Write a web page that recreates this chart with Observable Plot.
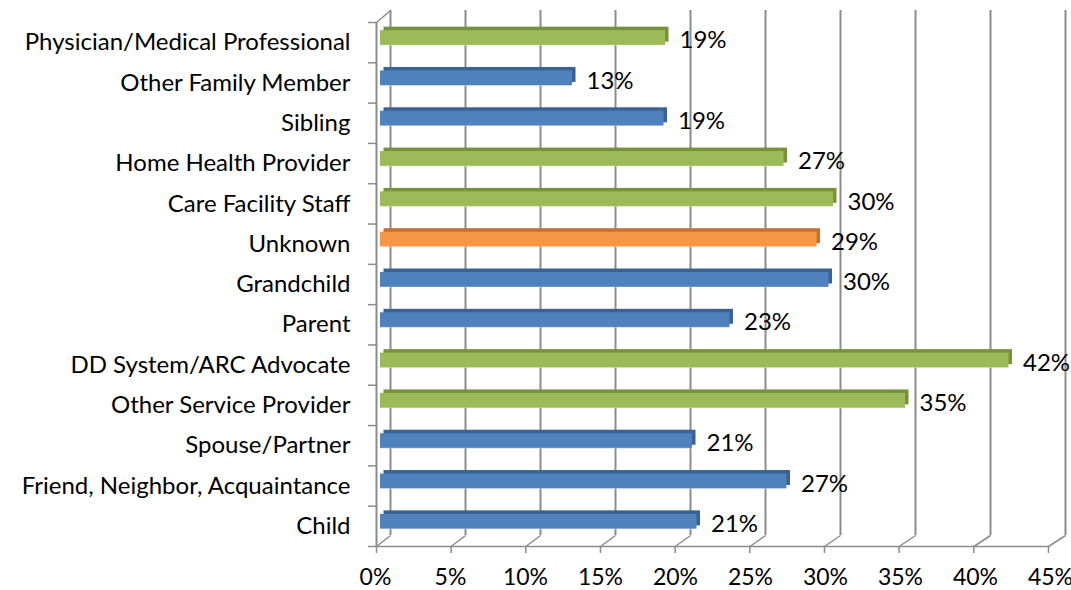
<!DOCTYPE html>
<html>
<head>
<meta charset="utf-8">
<script src="https://cdn.jsdelivr.net/npm/d3@7"></script>
<script src="https://cdn.jsdelivr.net/npm/@observablehq/plot@0.6"></script>
<style>
  html, body { margin: 0; padding: 0; background: #ffffff; }
  #chart { width: 1071px; height: 590px; }
</style>
</head>
<body>
<div id="chart"></div>
<script>
// ---- data (top to bottom) ----
const categories = [
  "Physician/Medical Professional",
  "Other Family Member",
  "Sibling",
  "Home Health Provider",
  "Care Facility Staff",
  "Unknown",
  "Grandchild",
  "Parent",
  "DD System/ARC Advocate",
  "Other Service Provider",
  "Spouse/Partner",
  "Friend, Neighbor, Acquaintance",
  "Child"
];
const values = [0.190, 0.128, 0.189, 0.269, 0.302, 0.291, 0.299, 0.233, 0.419, 0.350, 0.208, 0.271, 0.211];
const groups = ["professional", "family", "family", "professional", "professional", "unknown", "family", "family", "professional", "professional", "family", "family", "family"];
const xTicks = [0, 0.05, 0.10, 0.15, 0.20, 0.25, 0.30, 0.35, 0.40, 0.45];

const frontColor = {family: "#4F81BD", professional: "#9BBB59", unknown: "#F79646"};
const topColor = {family: "#3A6393", professional: "#76923C", unknown: "#C6722F"};

const rows = categories.map((c, i) => ({i, category: c, value: values[i], group: groups[i]}));

// pixel helpers for the pseudo-3D decoration (x: 15 px per 1 %, x(0) at 380)
const PXX = 1 / 1500;
const W = 1071, H = 590;
const yTop = 22, yBottom = 546;
const rowPx = (yBottom - yTop) / 13;
const yv = p => (p - yTop) / rowPx - 0.5;   // pixel -> y data units

const font = "Lato, 'Open Sans', sans-serif";
const gridColor = "#8C8C8C";
const FS = 24;

const chart = Plot.plot({
  width: W,
  height: H,
  marginLeft: 380,
  marginRight: W - 1055,
  marginTop: yTop,
  marginBottom: H - yBottom,
  style: {fontFamily: font, fontSize: FS + "px", color: "#000", background: "#fff", overflow: "visible"},
  x: {type: "linear", domain: [0, 0.45], range: [380, 1055]},
  y: {type: "linear", domain: [-0.5, 12.5], range: [yTop, yBottom]},
  marks: [
    // back wall gridlines
    Plot.ruleX(xTicks, {x: d => d, y1: yv(535), y2: yv(10), dx: 10, stroke: gridColor, strokeWidth: 2}),
    // floor diagonals
    Plot.link(xTicks, {x1: d => d * 0.9955 - 4 * PXX, x2: d => d + 10 * PXX, y1: yv(546), y2: yv(535), stroke: gridColor, strokeWidth: 1.5}),
    // front floor line
    Plot.ruleY([12.5], {x1: -4 * PXX, x2: 0.45 * 0.9955 - 4 * PXX, stroke: gridColor, strokeWidth: 1.5}),
    // left wall front line
    Plot.ruleX([-4 * PXX], {y1: -0.5, y2: 12.5, stroke: gridColor, strokeWidth: 2}),
    // top-left diagonal
    Plot.link([0], {x1: -4 * PXX, x2: 10 * PXX, y1: -0.5, y2: yv(10), stroke: gridColor, strokeWidth: 1.5}),
    // left axis ticks at category boundaries
    Plot.ruleY(d3.range(14).map(k => k - 0.5), {x1: -12 * PXX, x2: -4 * PXX, stroke: gridColor, strokeWidth: 1.5}),
    // front x-axis ticks
    Plot.ruleX(xTicks, {x: d => d * 0.9955 - 4 * PXX, y1: 12.5, y2: yv(553), stroke: gridColor, strokeWidth: 1.5}),

    // bar depth (top + side faces)
    Plot.rect(rows, {x1: 0, x2: "value", y1: d => d.i - 0.186, y2: d => d.i + 0.186, dx: 3.5, dy: -8, fill: d => topColor[d.group]}),
    // bar front face
    Plot.rect(rows, {x1: 0, x2: "value", y1: d => d.i - 0.186, y2: d => d.i + 0.186, dy: -4.5, fill: d => frontColor[d.group]}),
    // light bottom edge
    Plot.ruleY(rows, {x1: 0, x2: "value", y: d => d.i + 0.186, dy: -5, stroke: "#ffffff", strokeOpacity: 0.35, strokeWidth: 1}),

    // value labels
    Plot.text(rows, {x: "value", y: "i", text: d => Math.round(d.value * 100) + "%", dx: 14, dy: -2, textAnchor: "start", fontSize: FS, fill: "#000"}),

    // category axis
    Plot.axisY(d3.range(13), {tickSize: 0, tickPadding: 30, tickFormat: i => categories[i], fontSize: FS, fill: "#000", label: null}),
    // percent axis
    Plot.axisX(xTicks, {tickSize: 0, tickPadding: 22.5, dx: -5, tickFormat: d => Math.round(d * 100) + "%", fontSize: 23, fill: "#000", label: null})
  ]
});

document.getElementById("chart").appendChild(chart);
</script>
</body>
</html>
